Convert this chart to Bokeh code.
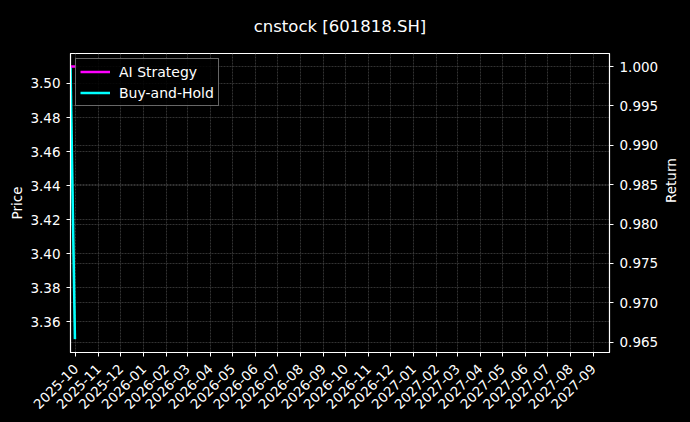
import math
import pandas as pd
from bokeh.plotting import figure
from bokeh.models import (Range1d, LinearAxis, FixedTicker, DatetimeTickFormatter,
                          NumeralTickFormatter, Grid, Legend, LegendItem)
from bokeh.embed import file_html
from bokeh.resources import INLINE

# data
dates = ["2025-09-24", "2025-09-30"]
price = [3.51, 3.35]
bh_return = [1.0, 0.9654]
ai_dates = ["2025-09-24", "2025-10-02"]
ai_return = [1.0, 1.0]

month_labels = ["2025-10", "2025-11", "2025-12", "2026-01", "2026-02", "2026-03",
                "2026-04", "2026-05", "2026-06", "2026-07", "2026-08", "2026-09",
                "2026-10", "2026-11", "2026-12", "2027-01", "2027-02", "2027-03",
                "2027-04", "2027-05", "2027-06", "2027-07", "2027-08", "2027-09"]
price_ticks = [3.36, 3.38, 3.40, 3.42, 3.44, 3.46, 3.48, 3.50]
return_ticks = [0.965, 0.970, 0.975, 0.980, 0.985, 0.990, 0.995, 1.000]

FONT = "DejaVu Sans"
GRID = "#474747"


def to_ms(s):
    return pd.Timestamp(s).value / 1e6


x = [to_ms(d) for d in dates]
x_ai = [to_ms(d) for d in ai_dates]
month_ticks = [to_ms(m + "-01") for m in month_labels]

p = figure(width=690, height=422, x_axis_type="datetime",
           x_range=Range1d(to_ms("2025-09-24"), to_ms("2027-09-23")),
           y_range=Range1d(3.342, 3.5176),
           output_backend="svg", toolbar_location=None,
           min_border_left=70, min_border_right=79, min_border_top=53, min_border_bottom=70)
p.extra_y_ranges = {"ret": Range1d(0.9637, 1.00165)}

p.background_fill_color = "black"
p.border_fill_color = "black"
p.outline_line_color = "white"
p.outline_line_width = 1.2

p.title.text = "cnstock [601818.SH]"
p.title.align = "center"
p.title.vertical_align = "top"
p.title.text_color = "white"
p.title.text_font = FONT
p.title.text_font_size = "16.5px"
p.title.text_font_style = "normal"
p.title.standoff = 32

# right axis for returns
r_axis = LinearAxis(y_range_name="ret", axis_label="Return")
p.add_layout(r_axis, "right")
try:
    r_axis.axis_label_orientation = math.pi / 2
except Exception:
    pass

for ax in [p.xaxis[0], p.yaxis[0], r_axis]:
    ax.axis_line_color = "white"
    ax.major_tick_line_color = "white"
    ax.major_tick_out = 4
    ax.major_tick_in = 0
    ax.minor_tick_line_color = None
    ax.major_label_text_color = "white"
    ax.major_label_text_font = FONT
    ax.major_label_text_font_size = "13.5px"
    ax.axis_label_text_color = "white"
    ax.axis_label_text_font = FONT
    ax.axis_label_text_font_size = "13.5px"
    ax.axis_label_text_font_style = "normal"
    ax.major_label_standoff = 6

p.yaxis[0].axis_label_standoff = 2
r_axis.axis_label_standoff = 10

p.xaxis.ticker = FixedTicker(ticks=month_ticks)
p.xaxis.formatter = DatetimeTickFormatter(
    milliseconds="%Y-%m", seconds="%Y-%m", minsec="%Y-%m", minutes="%Y-%m",
    hourmin="%Y-%m", hours="%Y-%m", days="%Y-%m", months="%Y-%m", years="%Y-%m")
p.xaxis.major_label_orientation = math.pi / 4
p.xaxis.major_label_standoff = 10

p.yaxis[0].axis_label = "Price"
p.yaxis[0].ticker = FixedTicker(ticks=price_ticks)
p.yaxis[0].formatter = NumeralTickFormatter(format="0.00")
r_axis.ticker = FixedTicker(ticks=return_ticks)
r_axis.formatter = NumeralTickFormatter(format="0.000")

# dashed grids
for g in [p.xgrid[0], p.ygrid[0]]:
    g.grid_line_color = GRID
    g.grid_line_dash = "2 1"
    g.grid_line_width = 0.7
rgrid = Grid(dimension=1, ticker=r_axis.ticker, y_range_name="ret",
             grid_line_color=GRID, grid_line_dash="2 1", grid_line_width=0.7)
p.add_layout(rgrid)

# lines
p.line(x, price, line_color="#2e8b2e", line_width=1.5)
bh = p.line(x, bh_return, y_range_name="ret", line_color="#00ffff", line_width=2.5)
ai = p.line(x_ai, ai_return, y_range_name="ret", line_color="#ff00ff", line_width=2.5)

legend = Legend(items=[LegendItem(label="AI Strategy", renderers=[ai]),
                       LegendItem(label="Buy-and-Hold", renderers=[bh])],
                location="top_left", margin=5, padding=4, spacing=4,
                glyph_width=30, glyph_height=17, label_height=17, label_standoff=9,
                label_text_color="white", label_text_font=FONT, label_text_font_size="14px",
                background_fill_color="black", background_fill_alpha=0.85,
                border_line_color="#cccccc", border_line_width=1)
p.add_layout(legend)

html = file_html(p, INLINE)
html = html.replace("</head>",
                    "<style>html, body { margin: 0; background-color: #000000; }</style></head>", 1)
open("out.html", "w").write(html)
